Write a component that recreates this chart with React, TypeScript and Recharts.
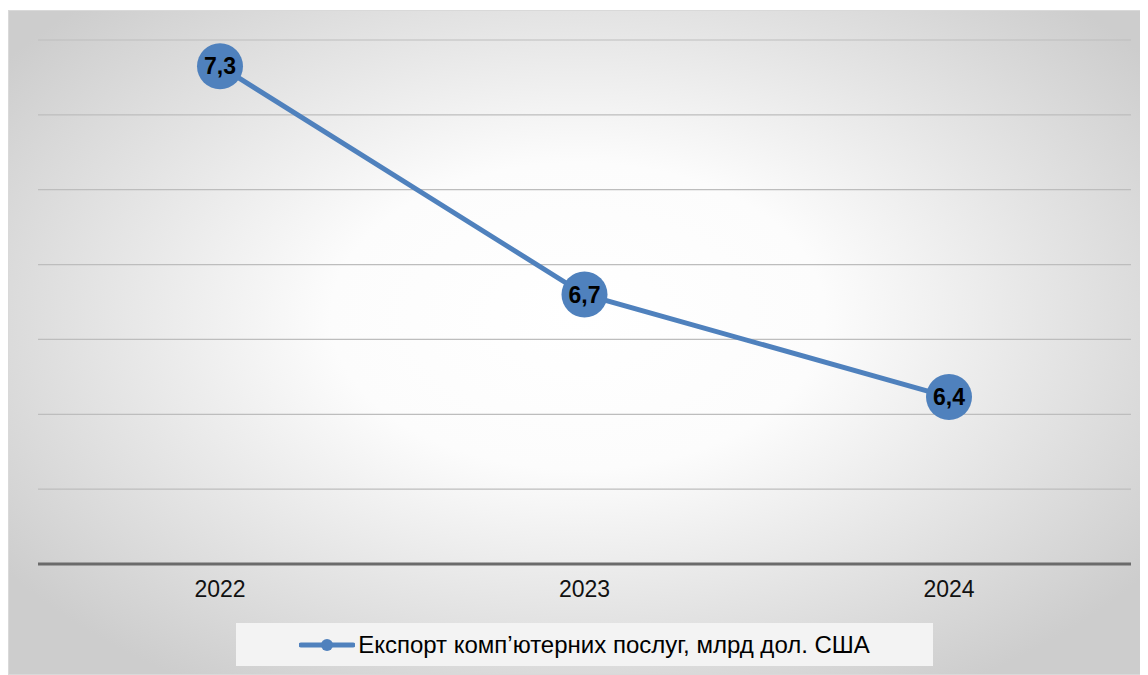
import { CartesianGrid, LabelList, Line, LineChart, XAxis, YAxis } from 'recharts'

const years = ['2022', '2023', '2024']
const exportValues = [7.33, 6.72, 6.446]
const yTicks = [6.0, 6.2, 6.4, 6.6, 6.8, 7.0, 7.2, 7.4]
const seriesName = 'Експорт комп’ютерних послуг, млрд дол. США'

const data = years.map((year, i) => ({ year, value: exportValues[i] }))

const BLUE = '#4f81bd'
const FONT = '"Liberation Sans", Arial, sans-serif'

function LegendBox() {
  return (
    <div
      style={{
        position: 'absolute',
        left: 227,
        top: 612,
        width: 697,
        height: 43,
        background: '#f3f3f3',
        display: 'flex',
        alignItems: 'center',
        justifyContent: 'center',
        fontFamily: FONT,
        fontSize: 24,
        color: '#000',
      }}
    >
      <svg width={56} height={14} style={{ marginRight: 3 }}>
        <line x1={2} y1={7} x2={54} y2={7} stroke={BLUE} strokeWidth={5} strokeLinecap="round" />
        <circle cx={28} cy={7} r={6} fill={BLUE} />
      </svg>
      <span style={{ whiteSpace: 'nowrap' }}>{seriesName}</span>
    </div>
  )
}

export default function App() {
  return (
    <div
      style={{
        width: 1140,
        height: 665,
        marginTop: 2,
        position: 'relative',
        border: '1px solid #d9d9d9',
        boxSizing: 'border-box',
        background: 'radial-gradient(ellipse 62% 66% at 50% 46%, #ffffff 0%, #fcfcfc 35%, #cdcdcd 100%)',
      }}
    >
      <LineChart width={1138} height={663} data={data} margin={{ top: 29, right: 16, left: 29, bottom: 80 }}>
        <CartesianGrid vertical={false} stroke="#bdbdbd" strokeWidth={1.2} />
        <XAxis
          dataKey="year"
          height={30}
          padding={{ left: 182, right: 182 }}
          axisLine={{ stroke: '#6b6b6b', strokeWidth: 3 }}
          tickLine={false}
          tickMargin={11}
          tick={{ fill: '#111', fontSize: 23, fontFamily: FONT }}
        />
        <YAxis hide domain={[6, 7.4]} ticks={yTicks} />
        <Line
          type="linear"
          dataKey="value"
          name={seriesName}
          stroke={BLUE}
          strokeWidth={5}
          dot={{ r: 23, fill: BLUE, stroke: 'none' }}
          activeDot={false}
          isAnimationActive={false}
        >
          <LabelList
            dataKey="value"
            position="center"
            formatter={(v: number) => v.toFixed(1).replace('.', ',')}
            style={{ fill: '#000', fontSize: 23, fontWeight: 'bold', fontFamily: FONT }}
          />
        </Line>
      </LineChart>
      <LegendBox />
    </div>
  )
}
